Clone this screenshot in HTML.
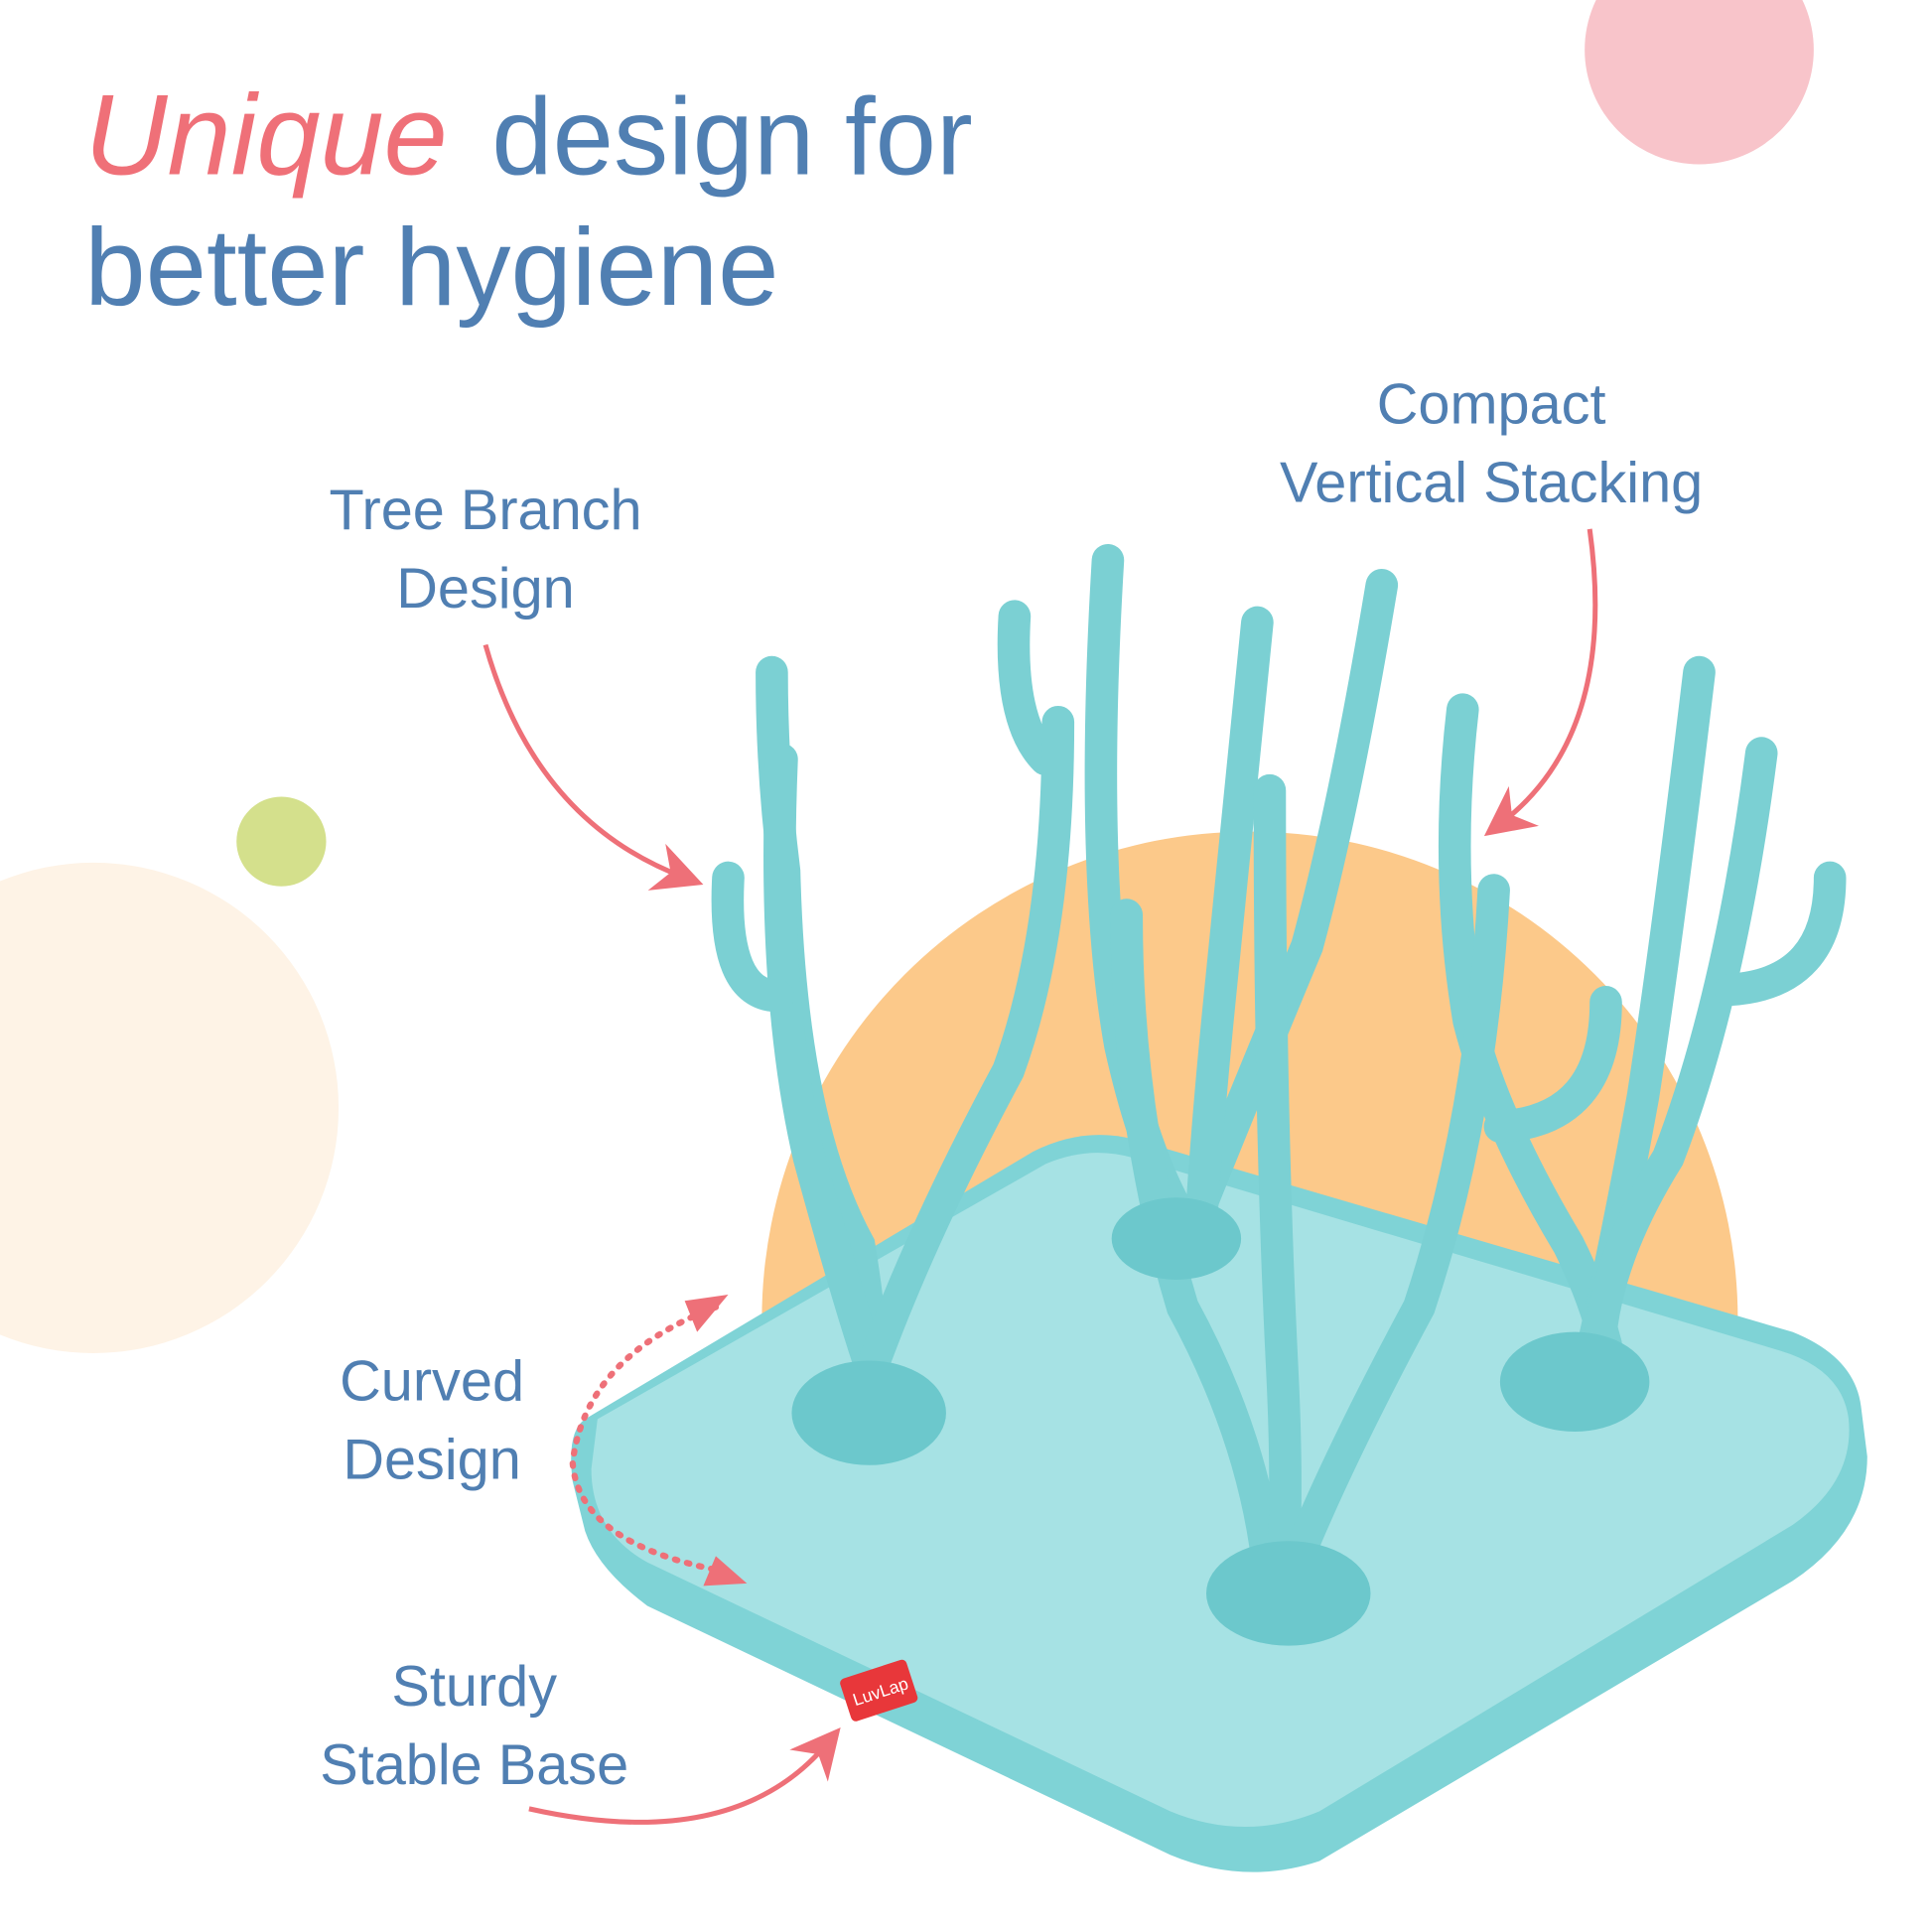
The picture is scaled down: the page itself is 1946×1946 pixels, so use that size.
<!DOCTYPE html>
<html><head><meta charset="utf-8"><style>
html,body{margin:0;padding:0;background:#fff;width:1946px;height:1946px;overflow:hidden}
svg{display:block}
text{font-family:"Liberation Sans",sans-serif}
</style></head><body>
<svg width="1946" height="1946" viewBox="0 0 1552 1552" xmlns="http://www.w3.org/2000/svg">
<defs>
<marker id="ah" markerWidth="10" markerHeight="10" refX="6" refY="5" orient="auto" markerUnits="strokeWidth">
<path d="M0,0 L10,5 L0,10 L3,5 Z" fill="#ee7078"/></marker>
</defs>
<rect width="1552" height="1552" fill="#fff"/>
<circle cx="1365" cy="40" r="92" fill="#f8c4ca"/>
<circle cx="226" cy="676" r="36" fill="#d4e08c"/>
<circle cx="75" cy="890" r="197" fill="#fef3e6"/>
<path d="M612,1060 A392,392 0 0 1 1396,1060 L1396,1080 L612,1080Z" fill="#fcc98a"/>

<text x="68" y="140" font-size="92" font-style="italic" font-family="Liberation Serif,serif" fill="#ef7078">Unique</text>
<text x="395" y="140" font-size="88" fill="#507fb2">design for</text>
<text x="68" y="245" font-size="88" fill="#507fb2">better hygiene</text>

<g font-size="46" fill="#507fb2" text-anchor="middle">
<text x="390" y="425">Tree Branch</text><text x="390" y="488">Design</text>
<text x="1198" y="340">Compact</text><text x="1198" y="403">Vertical Stacking</text>
<text x="347" y="1125">Curved</text><text x="347" y="1188">Design</text>
<text x="381" y="1370">Sturdy</text><text x="381" y="1433">Stable Base</text>
</g>

<!-- tray -->
<path d="M470,1140 Q455,1150 460,1190 L470,1230 Q480,1260 520,1290 L940,1490 Q1000,1515 1060,1495 L1440,1270 Q1500,1230 1500,1170 L1495,1130 Q1490,1090 1440,1070 L910,915 Q870,905 830,925 Z" fill="#7fd3d6"/>
<path d="M480,1140 L840,935 Q875,920 910,930 L1430,1085 Q1480,1100 1485,1140 Q1490,1190 1440,1225 L1060,1455 Q1000,1480 940,1455 L520,1255 Q475,1230 475,1180 Z" fill="#a6e2e4"/>

<!-- branches -->
<g stroke="#7bd0d3" stroke-width="26" fill="none" stroke-linecap="round">
<path d="M890,450 Q875,700 900,840 Q920,930 950,980"/>
<path d="M815,495 Q810,580 840,610"/>
<path d="M1110,470 Q1080,650 1050,760 Q1000,880 960,980"/>
<path d="M1010,500 Q995,650 980,800 Q970,900 965,980"/>
<path d="M1175,570 Q1160,700 1180,820 Q1200,900 1260,1000 Q1280,1040 1290,1080"/>
<path d="M1365,540 Q1340,750 1320,880 Q1300,990 1280,1080"/>
<path d="M1415,605 Q1390,800 1340,930 Q1290,1010 1285,1080"/>
<path d="M1470,705 Q1470,790 1390,795"/>
<path d="M620,540 Q620,620 630,700 Q635,900 690,1000 Q700,1060 700,1100"/>
<path d="M628,610 Q620,800 650,930 Q680,1040 700,1100"/>
<path d="M585,705 Q580,800 625,800"/>
<path d="M850,580 Q850,750 810,860 Q740,990 700,1100"/>
<path d="M905,735 Q905,900 950,1050 Q1010,1160 1020,1270"/>
<path d="M1020,635 Q1020,900 1030,1100 Q1035,1200 1030,1270"/>
<path d="M1200,715 Q1190,900 1140,1050 Q1070,1180 1035,1270"/>
<path d="M1290,805 Q1290,900 1205,905"/>
</g>
<!-- cups -->
<g fill="#6cc8cc">
<ellipse cx="698" cy="1135" rx="62" ry="42"/>
<ellipse cx="945" cy="995" rx="52" ry="33"/>
<ellipse cx="1265" cy="1110" rx="60" ry="40"/>
<ellipse cx="1035" cy="1280" rx="66" ry="42"/>
</g>
<rect x="678" y="1340" width="56" height="36" rx="4" fill="#e8373a" transform="rotate(-18 706 1358)"/>
<text x="684" y="1364" font-size="14" fill="#fff" transform="rotate(-18 706 1358)">LuvLap</text>

<!-- arrows -->
<g stroke="#ee7078" stroke-width="4" fill="none">
<path d="M390,518 Q430,660 550,705" marker-end="url(#ah)"/>
<path d="M1277,425 Q1300,590 1205,662" marker-end="url(#ah)"/>
<path d="M425,1453 Q590,1490 665,1400" marker-end="url(#ah)"/>
<path d="M575,1050 Q470,1090 460,1175 Q465,1240 580,1262" stroke-dasharray="2 8" stroke-linecap="round" stroke-width="5"/>
</g>
<path d="M560,1070 L585,1040 L550,1045Z" fill="#ee7078"/>
<path d="M575,1250 L600,1272 L565,1274Z" fill="#ee7078"/>
</svg>
</body></html>
